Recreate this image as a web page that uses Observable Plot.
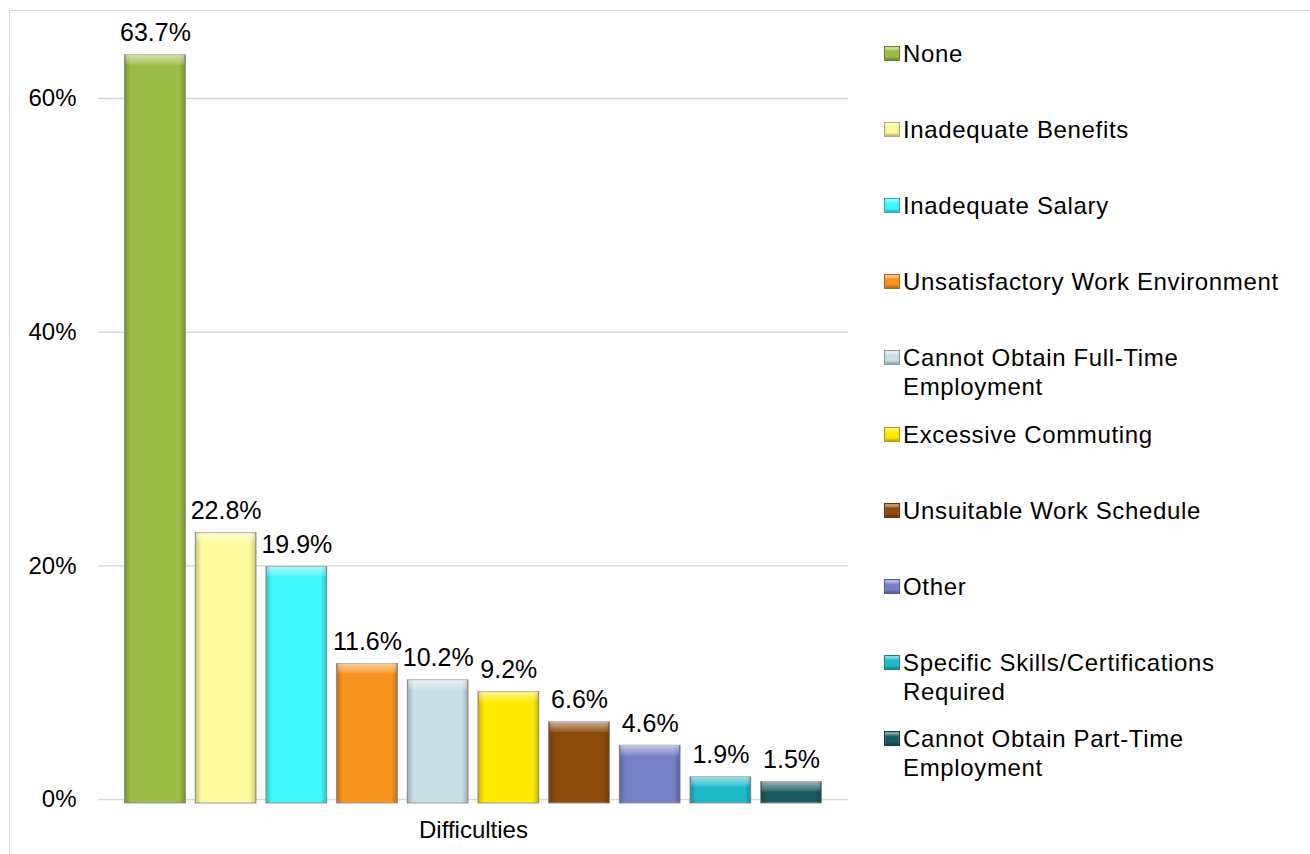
<!DOCTYPE html>
<html>
<head>
<meta charset="utf-8">
<script src="https://cdn.jsdelivr.net/npm/d3@7"></script>
<script src="https://cdn.jsdelivr.net/npm/@observablehq/plot@0.6"></script>
<style>
  html, body { margin: 0; padding: 0; background: #fff; }
  body { font-family: "Liberation Sans", Arial, sans-serif; }
  #wrap { position: relative; width: 1310px; height: 854px; overflow: hidden; background: #fff; }
  #frame { position: absolute; left: 9px; top: 10px; width: 1400px; height: 900px; border: 1px solid #d9d9d9; box-sizing: border-box; }
  #chart { position: absolute; left: 0; top: 0; }
  #legend { position: absolute; left: 884px; top: 0; width: 420px; height: 854px; }
  .item { position: absolute; left: 0; width: 420px; font-size: 24px; line-height: 29px; letter-spacing: 0.65px; color: #000; }
  .mk { position: absolute; left: 0; top: 7px; width: 16px; height: 15px; box-sizing: border-box; border: 1px solid rgba(0,0,0,0.3); box-shadow: inset 0 3px 2px rgba(255,255,255,0.45), inset 0 -2px 2px rgba(0,0,0,0.25); }
  .tx { position: absolute; left: 19px; top: 0; width: 395px; }
</style>
</head>
<body>
<svg width="0" height="0" style="position:absolute">
  <defs>
    <linearGradient id="sideShade" x1="0" y1="0" x2="1" y2="0">
      <stop offset="0" stop-color="#000" stop-opacity="0.22"/>
      <stop offset="0.1" stop-color="#000" stop-opacity="0"/>
      <stop offset="0.9" stop-color="#000" stop-opacity="0"/>
      <stop offset="1" stop-color="#000" stop-opacity="0.22"/>
    </linearGradient>
    <linearGradient id="topShine" x1="0" y1="0" x2="0" y2="1">
      <stop offset="0" stop-color="#fff" stop-opacity="0.55"/>
      <stop offset="1" stop-color="#fff" stop-opacity="0.1"/>
    </linearGradient>
  </defs>
</svg>
<div id="wrap">
  <div id="frame"></div>
  <div id="chart"></div>
  <div id="legend"></div>
</div>
<script>
const categories = [
  "None",
  "Inadequate Benefits",
  "Inadequate Salary",
  "Unsatisfactory Work Environment",
  "Cannot Obtain Full-Time Employment",
  "Excessive Commuting",
  "Unsuitable Work Schedule",
  "Other",
  "Specific Skills/Certifications Required",
  "Cannot Obtain Part-Time Employment"
];
const values = [0.637, 0.228, 0.199, 0.116, 0.102, 0.092, 0.066, 0.046, 0.019, 0.015];
const colors = ["#9BBB47", "#FDFB9C", "#3FF6FD", "#F7931E", "#C9DFE6", "#FFE900", "#8C4A0C", "#7580C6", "#1DBAC8", "#1B5A5E"];
const yTicks = [0, 0.2, 0.4, 0.6];
const xTitle = "Difficulties";

const data = categories.map((c, i) => ({cat: c, value: values[i]}));
const font = "'Liberation Sans', Arial, sans-serif";

const chart = Plot.plot({
  width: 870,
  height: 854,
  marginLeft: 98,
  marginRight: 22,
  marginTop: 39.6,
  marginBottom: 55,
  style: {fontFamily: font, fontSize: "24px", color: "#000", background: "transparent", overflow: "visible"},
  x: {type: "band", domain: categories, paddingInner: 0.14, paddingOuter: 0.376, round: false, axis: null},
  y: {domain: [0, 0.65], axis: null, label: null},
  color: {domain: categories, range: colors},
  marks: [
    Plot.gridY(yTicks, {stroke: "#d9d9d9", strokeOpacity: 1, strokeWidth: 1.5}),
    Plot.axisY(yTicks, {tickSize: 0, tickPadding: 22, label: null, tickFormat: d => Math.round(d * 100) + "%", fontSize: 24, fill: "#000"}),
    Plot.barY(data, {x: "cat", y: "value", fill: "cat", stroke: "#9a9a9a", strokeWidth: 1, insetBottom: -4}),
    Plot.barY(data, {x: "cat", y: "value", fill: "url(#sideShade)", insetBottom: -4}),
    Plot.barY(data, {x: "cat", y1: d => d.value, y2: d => d.value, insetBottom: -10, insetLeft: 1, insetRight: 1, fill: "url(#topShine)"}),
    Plot.text(data, {x: "cat", y: "value", text: d => (d.value * 100).toFixed(1) + "%", dy: -22, lineAnchor: "middle", fontSize: 25, fill: "#000", style: "letter-spacing:0.4px"}),
    Plot.text([xTitle], {frameAnchor: "bottom", dy: 31, lineAnchor: "middle", fontSize: 24, fill: "#000"})
  ]
});
document.getElementById("chart").appendChild(chart);

const legend = document.getElementById("legend");
categories.forEach((c, i) => {
  const center = 54 + i * 76.2;
  const item = document.createElement("div");
  item.className = "item";
  item.style.top = (center - 14.5 - 1) + "px";
  const mk = document.createElement("span");
  mk.className = "mk";
  mk.style.background = colors[i];
  const tx = document.createElement("span");
  tx.className = "tx";
  tx.textContent = c;
  item.appendChild(mk);
  item.appendChild(tx);
  legend.appendChild(item);
});
</script>
</body>
</html>
